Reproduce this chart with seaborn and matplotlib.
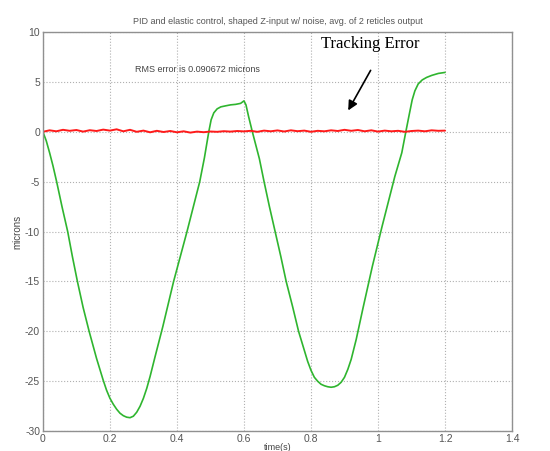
import numpy as np
import pandas as pd
import matplotlib
matplotlib.use("Agg")
import matplotlib.pyplot as plt
import seaborn as sns

# output signal (green)
t_out = [0.0, 0.01, 0.02, 0.03, 0.041, 0.057, 0.074, 0.088, 0.103, 0.12, 0.138, 0.16,
         0.18, 0.19, 0.2, 0.21, 0.22, 0.23, 0.24, 0.25, 0.26, 0.27, 0.28, 0.29,
         0.3, 0.31, 0.32, 0.335, 0.358, 0.39, 0.43, 0.468, 0.482, 0.495, 0.502,
         0.51, 0.52, 0.531, 0.545, 0.56, 0.575, 0.59, 0.6, 0.606, 0.614, 0.625,
         0.646, 0.66, 0.676, 0.693, 0.71, 0.726, 0.745, 0.763, 0.79, 0.8, 0.81,
         0.82, 0.83, 0.84, 0.85, 0.86, 0.87, 0.88, 0.89, 0.9, 0.91, 0.92, 0.935,
         0.955, 0.983, 1.012, 1.05, 1.071, 1.083, 1.093, 1.102, 1.11, 1.12, 1.132,
         1.145, 1.16, 1.18, 1.2]
z_out = [0.0, -0.9, -2.1, -3.4, -5, -7.5, -10, -12.5, -15, -17.6, -20, -22.7,
         -24.9, -25.9, -26.7, -27.3, -27.8, -28.2, -28.45, -28.6, -28.65, -28.5, -28.1, -27.5,
         -26.7, -25.7, -24.5, -22.5, -19.5, -15, -10, -5, -2.6, 0, 1.2,
         1.9, 2.3, 2.5, 2.6, 2.7, 2.75, 2.85, 3.1, 2.7, 1.5, 0,
         -2.7, -5, -7.5, -10, -12.5, -15, -17.5, -20, -23, -23.9, -24.6,
         -25.0, -25.3, -25.45, -25.55, -25.6, -25.55, -25.4, -25.1, -24.6, -23.8, -22.8, -20.8,
         -17.7, -13.5, -9.5, -4.5, -2.1, 0, 1.7, 3.2, 4.1, 4.8, 5.2,
         5.45, 5.65, 5.85, 5.95]

# tracking error (red)
t_err = [0.0, 0.02, 0.04, 0.06, 0.08, 0.1, 0.12, 0.14, 0.16, 0.18, 0.2, 0.22, 0.24,
         0.26, 0.28, 0.3, 0.32, 0.34, 0.36, 0.38, 0.4, 0.42, 0.44, 0.46, 0.48, 0.5,
         0.52, 0.54, 0.56, 0.58, 0.6, 0.62, 0.64, 0.66, 0.68, 0.7, 0.72, 0.74, 0.76,
         0.78, 0.8, 0.82, 0.84, 0.86, 0.88, 0.9, 0.92, 0.94, 0.96, 0.98, 1.0, 1.02,
         1.04, 1.06, 1.08, 1.1, 1.12, 1.14, 1.16, 1.18, 1.2]
e_err = [0.0, 0.15, 0.05, 0.2, 0.1, 0.18, 0.02, 0.16, 0.08, 0.22, 0.12, 0.25, 0.05,
         0.2, 0.0, 0.12, -0.05, 0.1, -0.02, 0.08, -0.05, 0.05, -0.08, 0.02, -0.04, 0.03,
         0.0, 0.06, 0.02, 0.08, 0.04, 0.1, 0.0, 0.12, 0.05, 0.14, 0.03, 0.15, 0.06,
         0.12, 0.0, 0.1, 0.05, 0.15, 0.08, 0.2, 0.1, 0.18, 0.05, 0.15, 0.02, 0.12,
         0.05, 0.1, 0.0, 0.08, 0.12, 0.05, 0.15, 0.1, 0.12]

df_out = pd.DataFrame({"time": t_out, "z": z_out})
df_err = pd.DataFrame({"time": t_err, "z": e_err})

sns.set_style("white")
plt.rcParams['font.family'] = ['Liberation Sans', 'DejaVu Sans']
plt.rcParams['axes.unicode_minus'] = False

fig = plt.figure(figsize=(5.5, 4.51), dpi=100)
ax = fig.add_axes([0.078, 0.044, 0.853, 0.885])

sns.lineplot(data=df_out, x="time", y="z", ax=ax, color="#2fb52f", lw=1.2)
sns.lineplot(data=df_err, x="time", y="z", ax=ax, color="#ff1a1a", lw=1.4)

ax.set_xlim(0, 1.4)
ax.set_ylim(-30, 10)
ax.set_xticks(np.arange(0, 1.41, 0.2))
ax.set_xticklabels(["0", "0.2", "0.4", "0.6", "0.8", "1", "1.2", "1.4"])
ax.set_yticks(np.arange(-30, 11, 5))
ax.grid(True, ls=":", color="#b0b0b0", lw=0.8)
for s in ax.spines.values():
    s.set_color("#909090")
    s.set_linewidth(1.0)
ax.tick_params(direction="in", length=3, color="#909090", labelsize=7.5,
               labelcolor="#555555", pad=2)

ax.set_xlabel("time(s)", fontsize=6.5, color="#444444", labelpad=-1)
ax.set_ylabel("microns", fontsize=7, color="#444444", labelpad=2)
ax.set_title("PID and elastic control, shaped Z-input w/ noise, avg. of 2 reticles output",
             fontsize=6.5, color="#555555", pad=6)

ax.text(0.275, 6.2, "RMS error is 0.090672 microns", fontsize=6.5, color="#444444",
        va="center", ha="left")
ax.text(0.83, 8.8, "Tracking Error", family="Liberation Serif", fontsize=12,
        color="black", va="center", ha="left")
ax.annotate("", xy=(0.907, 1.9), xytext=(0.982, 6.4),
            arrowprops=dict(arrowstyle="-|>", color="black", lw=1.2,
                            mutation_scale=14))

fig.savefig("out.png", dpi=100)
